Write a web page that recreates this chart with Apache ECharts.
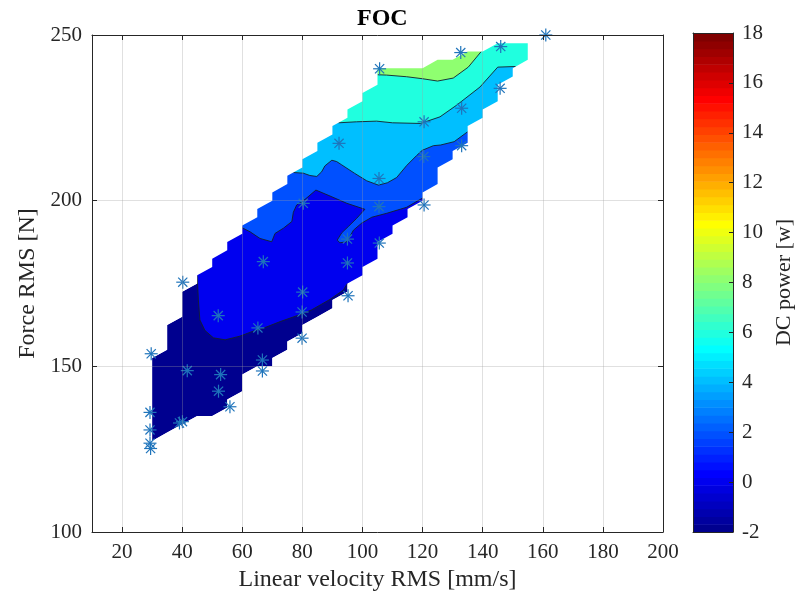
<!DOCTYPE html>
<html>
<head>
<meta charset="utf-8">
<script src="https://cdn.jsdelivr.net/npm/echarts@6.0.0/dist/echarts.min.js"></script>
<style>
html,body{margin:0;padding:0;background:#ffffff;}
#chart{width:805px;height:599px;}
</style>
</head>
<body>
<div id="chart"></div>
<script>
// ================= DATA =================
const xTicks = [20, 40, 60, 80, 100, 120, 140, 160, 180, 200];
const yTicks = [100, 150, 200, 250];
const cbTicks = [-2, 0, 2, 4, 6, 8, 10, 12, 14, 16, 18];

// interpolation grid columns (velocity) and valid force range per column
const gridX   = [30, 35, 40, 45, 50, 55, 60, 65, 70, 75, 80, 85, 90, 95, 100, 105, 110, 115, 120, 125, 130, 135, 140, 145, 150, 155];
const gridTop = [152.5, 162.5, 172.5, 177.5, 182.5, 187.5, 192.5, 197.5, 202.5, 207.5, 212.5, 217.5, 222.5, 227.5, 232.5, 240, 240, 240, 240, 242.5, 242.5, 245, 245, 247.5, 247.5, 247.5];
const gridBot = [125, 130, 132.5, 135, 135, 137.5, 142.5, 150, 150, 155, 160, 165, 167.5, 172.5, 177.5, 182.5, 190, 195, 200, 205, 212.5, 217.5, 225, 230, 237.5, 242.5];

// contour levels (DC power, W)
const levels = [-2, 0, 2, 4, 6, 8];

// iso-lines [velocity, force]
const iso0 = [[45,177.3],[45.4,170],[45.9,164],[47.6,160.8],[50.4,158.6],[54.3,158],[59.2,159.1],[64.8,161],[67,161.5],[72.6,163.5],[79.2,165.6],[83,167],[89.2,170.2],[93.6,173],[95,175]];
const iso2 = [[60,191.8],[62.6,190.6],[65.9,188.6],[69.8,187.6],[70.9,190.1],[73.7,191.7],[76.5,193.7],[77,196.5],[78.1,198.7],[80.9,200.4],[84.5,203.2],[89.2,201.4],[94.8,199.2],[100.8,197.4],[98.1,194.7],[95.3,192.2],[93.1,190.3],[91.6,188.1],[92.5,187.3],[94.8,187.6],[97,191.1],[99.7,193.2],[103.1,195],[108.1,196.2],[114.7,198],[120,200.8]];
const iso4 = [[77,208.5],[80.3,208.3],[82.5,207.6],[84.8,207.3],[86.4,208.7],[87.5,210.5],[89.8,212.2],[91.4,211.8],[93.1,210.8],[97.3,208.3],[101.4,206],[105.3,204.7],[108.3,205.4],[111.4,207],[114.7,210.6],[118,213.6],[119.9,215.2],[123.6,216.6],[126,216.8],[130.5,217.8],[135,220.8]];
const iso6 = [[92,223.5],[98,223.8],[104.7,224],[110,223.5],[119.3,223.3],[125.8,225.3],[131.3,228.8],[139.1,234.3],[145,240.3],[151,240.5]];
const iso8 = [[105,238],[108,237.9],[114.7,237.4],[120,236.8],[125,236.1],[130.2,237],[135.2,240.3],[139.5,245]];

// closures of the super-level regions (outside the data hull, hidden by the mask)
const cap0 = [[110,170],[200,170],[200,250],[45,250]];
const cap2 = [[130,195],[200,195],[200,250],[60,250]];
const cap4 = [[145,215],[200,215],[200,250],[77,250]];
const cap6 = [[160,238],[200,238],[200,250],[92,250]];
const cap8 = [[139.5,250],[105,250]];

// measured operating points [velocity mm/s, force N]
const measured = [
  [161,250],[146,246.5],[132.7,244.7],[105.7,239.8],[145.8,233.9],[133,227.9],[120.5,223.8],
  [92.2,217.3],[133,216.6],[120.4,213.3],[105.5,206.7],[80.3,199.2],[105.5,198.2],[120.5,198.7],
  [95,188.4],[105.6,187.2],[67,181.6],[95,181.2],[80.1,172.4],[95.2,171.3],[40.2,175.4],
  [52,165.3],[79.9,166.4],[65.2,161.6],[79.9,158.5],[29.7,153.8],[41.7,148.7],[52.8,147.5],
  [66.7,151.9],[66.7,148.6],[52.1,142.5],[55.9,137.8],[29.3,136.1],[29.3,130.8],[29.3,126.8],
  [29.5,125.2],[39.1,132.9],[40.1,133.3]
];

// ================= STYLE / HELPERS =================
const FONT = "'Liberation Serif', 'Times New Roman', Times, serif";
const INK = '#262626';
const xMin = 10, xMax = 200, yMin = 100, yMax = 250;
const cMin = -2, cMax = 18;
const DY = 2.5;

function jetRow(k) { // MATLAB jet(64), k = 1..64
  const b = k <= 8 ? (k + 8) / 16 : k <= 24 ? 1 : k <= 39 ? (40 - k) / 16 : 0;
  const g = k <= 8 ? 0 : k <= 24 ? (k - 8) / 16 : k <= 39 ? 1 : k <= 55 ? (56 - k) / 16 : 0;
  const r = k <= 24 ? 0 : k <= 40 ? (k - 24) / 16 : k <= 55 ? 1 : (72 - k) / 16;
  return 'rgb(' + [r, g, b].map(v => Math.round(v * 255)).join(',') + ')';
}
const jet64 = Array.from({length: 64}, (_, i) => jetRow(i + 1));
function levelColor(L) {
  let idx = Math.floor((L - cMin) / (cMax - cMin) * 64);
  return jet64[Math.min(63, Math.max(0, idx))];
}

function buildHull() {
  const n = gridX.length;
  const top = [[gridX[0], gridTop[0]]];
  for (let i = 0; i < n - 1; i++) {
    const a = gridTop[i], b = gridTop[i + 1], x1 = gridX[i + 1];
    if (b > a) { top.push([x1, a + DY]); if (b > a + DY) top.push([x1, b]); }
    else top.push([x1, b]);
  }
  const bot = [[gridX[0], gridBot[0]]];
  for (let i = 0; i < n - 1; i++) {
    const a = gridBot[i], b = gridBot[i + 1], x0 = gridX[i], x1 = gridX[i + 1];
    if (b > a) { if (b - DY > a) bot.push([x0, b - DY]); bot.push([x1, b]); }
    else bot.push([x1, b]);
  }
  return bot.concat(top.slice().reverse());
}
const hull = buildHull();
const regions = [hull, iso0.concat(cap0), iso2.concat(cap2), iso4.concat(cap4), iso6.concat(cap6), iso8.concat(cap8)];

const cbStep = (cMax - cMin) / 64;
const cbCells = jet64.map((c, i) => [0.5, cMin + i * cbStep]);

const chart = echarts.init(document.getElementById('chart'), null, {renderer: 'canvas'});

const lineAxisOnly = (extra) => Object.assign({
  type: 'value', axisLine: {show: true, onZero: false, lineStyle: {color: INK, width: 1}},
  axisTick: {show: false}, axisLabel: {show: false}, splitLine: {show: false}, z: 10
}, extra);

const option = {
  animation: false,
  backgroundColor: '#ffffff',
  title: {
    text: 'FOC', left: 352, top: 2,
    textStyle: {fontFamily: FONT, fontSize: 24, fontWeight: 'bold', color: '#000'}
  },
  grid: [
    {left: 92, right: 142, top: 35, bottom: 67},
    {left: 693, width: 40, top: 33, bottom: 67}
  ],
  xAxis: [
    {
      gridIndex: 0, type: 'value', min: xMin, max: xMax, position: 'bottom', z: 10,
      axisLine: {show: true, onZero: false, lineStyle: {color: INK, width: 1}},
      axisTick: {show: true, inside: true, length: 5, customValues: xTicks, lineStyle: {color: INK}},
      axisLabel: {customValues: xTicks, color: INK, fontFamily: FONT, fontSize: 21, margin: 10},
      splitLine: {show: true, lineStyle: {color: 'rgba(160,160,160,0.32)', width: 1}},
      name: 'Linear velocity RMS [mm/s]', nameLocation: 'middle', nameGap: 33,
      nameTextStyle: {fontFamily: FONT, fontSize: 24, color: INK}
    },
    {
      gridIndex: 0, type: 'value', min: xMin, max: xMax, position: 'top', z: 10,
      axisLine: {show: true, onZero: false, lineStyle: {color: INK, width: 1}},
      axisTick: {show: true, inside: true, length: 5, customValues: xTicks, lineStyle: {color: INK}},
      axisLabel: {show: false}, splitLine: {show: false}
    },
    lineAxisOnly({gridIndex: 1, min: 0, max: 1, position: 'bottom'}),
    lineAxisOnly({gridIndex: 1, min: 0, max: 1, position: 'top'})
  ],
  yAxis: [
    {
      gridIndex: 0, type: 'value', min: yMin, max: yMax, interval: 50, position: 'left', z: 10,
      axisLine: {show: true, onZero: false, lineStyle: {color: INK, width: 1}},
      axisTick: {show: true, inside: true, length: 5, customValues: yTicks, lineStyle: {color: INK}},
      axisLabel: {customValues: yTicks, color: INK, fontFamily: FONT, fontSize: 21, margin: 10},
      splitLine: {show: true, lineStyle: {color: 'rgba(160,160,160,0.32)', width: 1}},
      name: 'Force RMS [N]', nameLocation: 'middle', nameGap: 39, nameRotate: 90,
      nameTextStyle: {fontFamily: FONT, fontSize: 24, color: INK}
    },
    {
      gridIndex: 0, type: 'value', min: yMin, max: yMax, interval: 50, position: 'right', z: 10,
      axisLine: {show: true, onZero: false, lineStyle: {color: INK, width: 1}},
      axisTick: {show: true, inside: true, length: 5, customValues: yTicks, lineStyle: {color: INK}},
      axisLabel: {show: false}, splitLine: {show: false}
    },
    {
      gridIndex: 1, type: 'value', min: cMin, max: cMax, interval: 2, position: 'right', z: 10,
      axisLine: {show: true, onZero: false, lineStyle: {color: INK, width: 1}},
      axisTick: {show: true, inside: true, length: 4, customValues: cbTicks, lineStyle: {color: INK}},
      axisLabel: {customValues: cbTicks, color: INK, fontFamily: FONT, fontSize: 21, margin: 9},
      splitLine: {show: false},
      name: 'DC power [w]', nameLocation: 'middle', nameGap: 40, nameRotate: 90,
      nameTextStyle: {fontFamily: FONT, fontSize: 22, color: INK}
    },
    lineAxisOnly({gridIndex: 1, min: cMin, max: cMax, position: 'left'})
  ],
  series: [
    { // filled contour bands
      type: 'custom', xAxisIndex: 0, yAxisIndex: 0, z: 2, silent: true,
      data: levels.map((L, i) => [i]),
      encode: {x: -1, y: -1},
      renderItem: function (params, api) {
        const poly = regions[params.dataIndex];
        return {
          type: 'polygon',
          shape: {points: poly.map(p => api.coord(p))},
          style: {fill: levelColor(levels[params.dataIndex]), stroke: null}
        };
      }
    },
    ...[iso0, iso2, iso4, iso6, iso8].map(d => ({
      type: 'line', xAxisIndex: 0, yAxisIndex: 0, z: 3, silent: true,
      data: d, symbol: 'none', smooth: false,
      lineStyle: {color: '#14202a', width: 0.9}
    })),
    { // white mask outside the interpolation hull
      type: 'custom', xAxisIndex: 0, yAxisIndex: 0, z: 4, silent: true,
      data: [[xMin, yMin]],
      renderItem: function (params, api) {
        const frame = [[xMin, yMin], [xMax, yMin], [xMax, yMax], [xMin, yMax]].map(p => api.coord(p));
        let inner = hull.map(p => api.coord(p));
        const area = pts => { let s = 0; for (let i = 0; i < pts.length; i++) { const a = pts[i], b = pts[(i + 1) % pts.length]; s += a[0] * b[1] - b[0] * a[1]; } return s; };
        if (Math.sign(area(inner)) === Math.sign(area(frame))) inner = inner.slice().reverse();
        const toD = pts => 'M' + pts.map(p => p[0].toFixed(2) + ' ' + p[1].toFixed(2)).join('L') + 'Z';
        return {type: 'path', shape: {pathData: toD(frame) + toD(inner)}, style: {fill: '#ffffff', stroke: null}};
      }
    },
    { // measured points: asterisk markers
      type: 'custom', xAxisIndex: 0, yAxisIndex: 0, z: 5, silent: true,
      data: measured,
      renderItem: function (params, api) {
        const c = api.coord([api.value(0), api.value(1)]);
        const r = 6.5, d = r * Math.SQRT1_2;
        const segs = [[-r, 0, r, 0], [0, -r, 0, r], [-d, -d, d, d], [-d, d, d, -d]];
        return {
          type: 'group',
          children: segs.map(s => ({
            type: 'line',
            shape: {x1: c[0] + s[0], y1: c[1] + s[1], x2: c[0] + s[2], y2: c[1] + s[3]},
            style: {stroke: '#1f74bb', lineWidth: 1.2}
          }))
        };
      }
    },
    { // colorbar
      type: 'custom', xAxisIndex: 2, yAxisIndex: 2, z: 2, silent: true,
      data: cbCells,
      renderItem: function (params, api) {
        const v = api.value(1);
        const p1 = api.coord([0, v]);
        const p2 = api.coord([1, v + cbStep]);
        return {
          type: 'rect',
          shape: {x: p1[0], y: p2[1], width: p2[0] - p1[0], height: p1[1] - p2[1] + 0.6},
          style: {fill: jet64[params.dataIndex], stroke: null}
        };
      }
    }
  ]
};
chart.setOption(option);
</script>
</body>
</html>
